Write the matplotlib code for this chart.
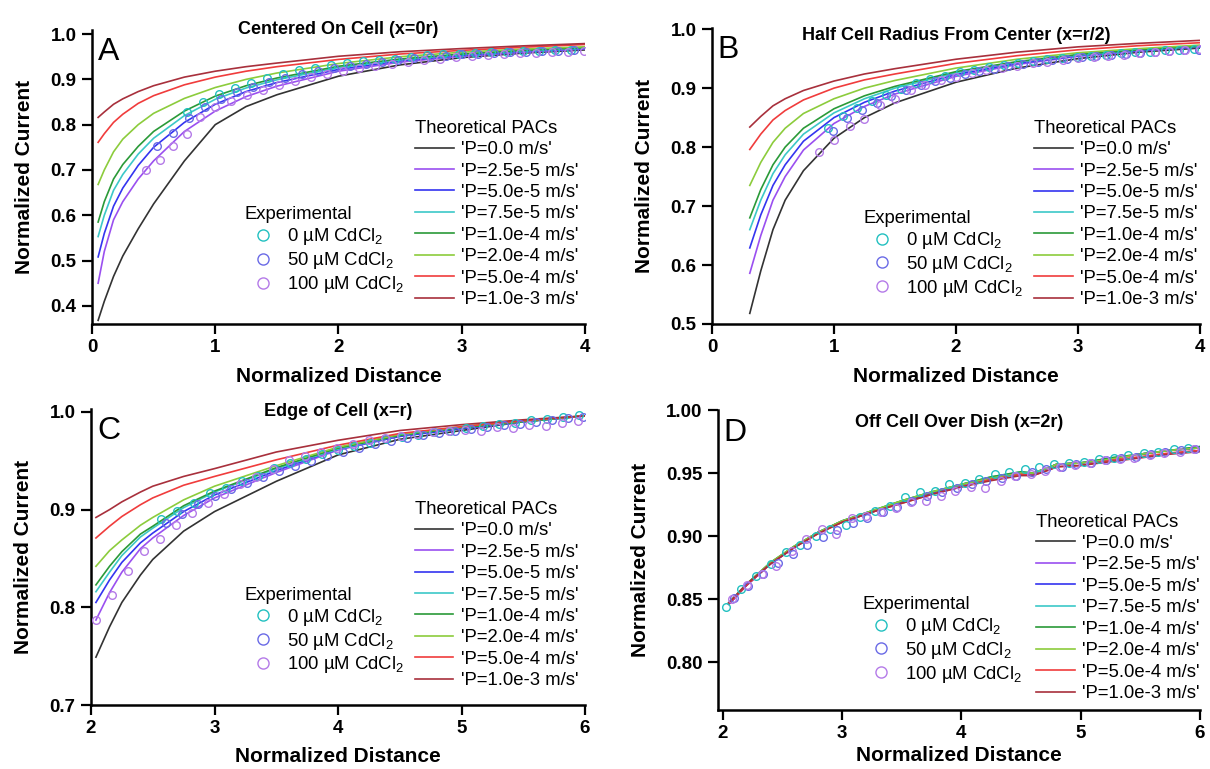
import numpy as np
import matplotlib.pyplot as plt
from matplotlib.lines import Line2D

plt.rcParams['font.family'] = ['Liberation Sans', 'DejaVu Sans']
plt.rcParams['mathtext.fontset'] = 'custom'
plt.rcParams['mathtext.rm'] = 'Liberation Sans'

# permeability series (theoretical PACs)
p_labels = ["'P=0.0 m/s'", "'P=2.5e-5 m/s'", "'P=5.0e-5 m/s'", "'P=7.5e-5 m/s'",
            "'P=1.0e-4 m/s'", "'P=2.0e-4 m/s'", "'P=5.0e-4 m/s'", "'P=1.0e-3 m/s'"]
p_colors = ['#333333', '#9a4ff0', '#3434f0', '#3cc8c8', '#2a9a38', '#8ccc3c', '#f03c3c', '#a8303c']

exp_labels = ['0 µM CdCl$_2$', '50 µM CdCl$_2$', '100 µM CdCl$_2$']
exp_colors = ['#22c0c0', '#6a6ae6', '#b47ae8']

# A: centered on cell
a_x = [0.05, 0.1, 0.175, 0.25, 0.375, 0.5, 0.75, 1.0, 1.25, 1.5, 2.0, 2.5, 3.0, 3.5, 4.0]
a_curves = [
    [0.368, 0.41, 0.465, 0.51, 0.57, 0.625, 0.72, 0.80, 0.84, 0.866, 0.907, 0.932, 0.948, 0.958, 0.965],
    [0.45, 0.52, 0.59, 0.63, 0.68, 0.72, 0.785, 0.83, 0.862, 0.885, 0.918, 0.938, 0.951, 0.96, 0.967],
    [0.508, 0.56, 0.62, 0.66, 0.71, 0.75, 0.805, 0.845, 0.873, 0.893, 0.922, 0.941, 0.953, 0.962, 0.968],
    [0.553, 0.60, 0.655, 0.69, 0.735, 0.77, 0.82, 0.856, 0.881, 0.899, 0.926, 0.943, 0.955, 0.963, 0.969],
    [0.585, 0.63, 0.68, 0.712, 0.752, 0.785, 0.83, 0.863, 0.886, 0.903, 0.929, 0.945, 0.956, 0.964, 0.97],
    [0.668, 0.70, 0.74, 0.768, 0.80, 0.825, 0.858, 0.882, 0.90, 0.914, 0.935, 0.95, 0.96, 0.967, 0.972],
    [0.761, 0.78, 0.805, 0.823, 0.847, 0.864, 0.888, 0.905, 0.918, 0.928, 0.944, 0.956, 0.964, 0.971, 0.977],
    [0.816, 0.828, 0.845, 0.857, 0.873, 0.886, 0.905, 0.918, 0.928, 0.936, 0.951, 0.961, 0.968, 0.974, 0.979],
]
a_cyan_x = [0.77, 0.90, 1.03, 1.16, 1.29, 1.42, 1.55, 1.68, 1.81, 1.94, 2.07, 2.20, 2.33,
            2.46, 2.59, 2.72, 2.85, 2.98, 3.11, 3.24, 3.37, 3.50, 3.63, 3.76, 3.89]
a_cyan_y = [0.828, 0.850, 0.868, 0.882, 0.893, 0.903, 0.912, 0.920, 0.926, 0.931, 0.936, 0.940, 0.943,
            0.946, 0.950, 0.953, 0.955, 0.957, 0.958, 0.960, 0.961, 0.962, 0.963, 0.964, 0.965]
a_blue_x = [0.53, 0.66, 0.79, 0.92, 1.05, 1.18, 1.31, 1.44, 1.57, 1.70, 1.83, 1.96, 2.09, 2.22,
            2.35, 2.48, 2.61, 2.74, 2.87, 3.00, 3.13, 3.26, 3.39, 3.52, 3.65, 3.78, 3.91]
a_blue_y = [0.752, 0.782, 0.815, 0.838, 0.857, 0.872, 0.884, 0.895, 0.904, 0.912, 0.919, 0.924, 0.930, 0.935,
            0.939, 0.943, 0.947, 0.950, 0.952, 0.955, 0.957, 0.958, 0.960, 0.961, 0.962, 0.963, 0.964]
a_violet_x = [0.44, 0.55, 0.66, 0.77, 0.88, 1.00, 1.13, 1.26, 1.39, 1.52, 1.65, 1.78, 1.91, 2.04, 2.17,
              2.30, 2.43, 2.56, 2.69, 2.82, 2.95, 3.08, 3.21, 3.34, 3.47, 3.60, 3.73, 3.86, 3.99]
a_violet_y = [0.700, 0.722, 0.752, 0.780, 0.817, 0.840, 0.852, 0.866, 0.877, 0.888, 0.897, 0.905, 0.912, 0.918, 0.924,
              0.929, 0.934, 0.938, 0.942, 0.946, 0.949, 0.952, 0.954, 0.956, 0.958, 0.959, 0.960, 0.961, 0.962]

# B: half cell radius from center
b_x = [0.31, 0.4, 0.5, 0.6, 0.75, 1.0, 1.25, 1.5, 2.0, 2.5, 3.0, 3.5, 4.0]
b_curves = [
    [0.518, 0.59, 0.66, 0.71, 0.76, 0.815, 0.85, 0.875, 0.91, 0.934, 0.95, 0.961, 0.968],
    [0.586, 0.65, 0.71, 0.75, 0.795, 0.84, 0.869, 0.89, 0.92, 0.94, 0.954, 0.963, 0.97],
    [0.629, 0.685, 0.735, 0.77, 0.81, 0.85, 0.876, 0.895, 0.923, 0.942, 0.955, 0.964, 0.97],
    [0.66, 0.71, 0.755, 0.787, 0.822, 0.858, 0.882, 0.90, 0.926, 0.944, 0.956, 0.965, 0.971],
    [0.68, 0.728, 0.77, 0.80, 0.832, 0.865, 0.887, 0.903, 0.928, 0.945, 0.957, 0.965, 0.971],
    [0.735, 0.774, 0.808, 0.832, 0.857, 0.882, 0.90, 0.913, 0.934, 0.949, 0.96, 0.967, 0.973],
    [0.796, 0.822, 0.846, 0.862, 0.88, 0.90, 0.914, 0.924, 0.942, 0.955, 0.965, 0.972, 0.977],
    [0.834, 0.852, 0.87, 0.882, 0.896, 0.912, 0.924, 0.933, 0.949, 0.961, 0.97, 0.976, 0.981],
]
b_cyan_x = [0.95, 1.07, 1.19, 1.31, 1.43, 1.55, 1.67, 1.79, 1.91, 2.03, 2.15, 2.27, 2.39,
            2.51, 2.63, 2.75, 2.87, 2.99, 3.11, 3.23, 3.35, 3.47, 3.59, 3.71, 3.83, 3.95]
b_cyan_y = [0.832, 0.853, 0.867, 0.878, 0.889, 0.899, 0.908, 0.915, 0.921, 0.927, 0.931, 0.935, 0.939,
            0.943, 0.946, 0.949, 0.951, 0.953, 0.955, 0.957, 0.959, 0.961, 0.962, 0.964, 0.965, 0.966]
b_blue_x = [0.99, 1.11, 1.23, 1.35, 1.47, 1.59, 1.71, 1.83, 1.95, 2.07, 2.19, 2.31, 2.43,
            2.55, 2.67, 2.79, 2.91, 3.03, 3.15, 3.27, 3.39, 3.51, 3.63, 3.75, 3.87, 3.99]
b_blue_y = [0.828, 0.850, 0.863, 0.875, 0.886, 0.896, 0.905, 0.912, 0.918, 0.924, 0.929, 0.933, 0.937,
            0.941, 0.944, 0.947, 0.950, 0.952, 0.954, 0.956, 0.958, 0.960, 0.961, 0.963, 0.964, 0.965]
b_violet_x = [0.88, 1.00, 1.13, 1.25, 1.38, 1.50, 1.63, 1.75, 1.88, 2.00, 2.13, 2.25, 2.38,
              2.50, 2.63, 2.75, 2.88, 3.00, 3.13, 3.25, 3.38, 3.50, 3.63, 3.75, 3.88, 4.00]
b_violet_y = [0.791, 0.812, 0.835, 0.847, 0.872, 0.882, 0.897, 0.905, 0.913, 0.919, 0.925, 0.930, 0.934,
              0.938, 0.942, 0.945, 0.948, 0.951, 0.953, 0.955, 0.957, 0.959, 0.961, 0.963, 0.964, 0.966]

# C: edge of cell
c_x = [2.04, 2.15, 2.25, 2.4, 2.5, 2.75, 3.0, 3.5, 4.0, 4.5, 5.0, 5.5, 6.0]
c_curves = [
    [0.749, 0.78, 0.805, 0.833, 0.849, 0.878, 0.898, 0.929, 0.956, 0.972, 0.981, 0.99, 0.996],
    [0.787, 0.815, 0.836, 0.86, 0.871, 0.894, 0.912, 0.938, 0.961, 0.975, 0.983, 0.99, 0.996],
    [0.805, 0.828, 0.846, 0.866, 0.876, 0.898, 0.915, 0.94, 0.962, 0.975, 0.983, 0.99, 0.996],
    [0.816, 0.836, 0.853, 0.872, 0.881, 0.902, 0.918, 0.942, 0.962, 0.976, 0.984, 0.99, 0.996],
    [0.823, 0.842, 0.857, 0.875, 0.883, 0.904, 0.919, 0.943, 0.963, 0.976, 0.984, 0.99, 0.996],
    [0.842, 0.858, 0.869, 0.884, 0.892, 0.91, 0.924, 0.945, 0.964, 0.977, 0.985, 0.991, 0.996],
    [0.871, 0.883, 0.893, 0.905, 0.912, 0.925, 0.934, 0.951, 0.966, 0.978, 0.985, 0.991, 0.996],
    [0.892, 0.90, 0.908, 0.918, 0.924, 0.934, 0.942, 0.959, 0.971, 0.981, 0.987, 0.992, 0.996],
]
c_cyan_x = [2.57, 2.70, 2.83, 2.96, 3.09, 3.22, 3.35, 3.48, 3.61, 3.74, 3.87, 4.00, 4.13, 4.26,
            4.39, 4.52, 4.65, 4.78, 4.91, 5.04, 5.17, 5.30, 5.43, 5.56, 5.69, 5.82, 5.95]
c_cyan_y = [0.890, 0.899, 0.907, 0.917, 0.922, 0.929, 0.934, 0.943, 0.948, 0.952, 0.957, 0.961, 0.965, 0.968,
            0.972, 0.974, 0.976, 0.979, 0.981, 0.984, 0.986, 0.988, 0.989, 0.992, 0.993, 0.995, 0.997]
c_blue_x = [2.61, 2.74, 2.87, 3.00, 3.13, 3.26, 3.39, 3.52, 3.65, 3.78, 3.91, 4.04, 4.17, 4.30,
            4.43, 4.56, 4.69, 4.82, 4.95, 5.08, 5.21, 5.34, 5.47, 5.60, 5.73, 5.86, 5.98]
c_blue_y = [0.886, 0.896, 0.906, 0.914, 0.921, 0.927, 0.933, 0.940, 0.945, 0.950, 0.955, 0.959, 0.963, 0.967,
            0.970, 0.973, 0.976, 0.978, 0.980, 0.983, 0.985, 0.987, 0.988, 0.990, 0.992, 0.994, 0.995]
c_violet_x = [2.04, 2.17, 2.30, 2.43, 2.56, 2.69, 2.82, 2.95, 3.08, 3.21, 3.34, 3.47, 3.60, 3.73, 3.86, 3.99,
              4.12, 4.25, 4.38, 4.51, 4.64, 4.77, 4.90, 5.03, 5.16, 5.29, 5.42, 5.55, 5.68, 5.81, 5.94]
c_violet_y = [0.787, 0.813, 0.837, 0.858, 0.870, 0.884, 0.897, 0.907, 0.916, 0.926, 0.933, 0.942, 0.951, 0.955, 0.959, 0.963,
              0.967, 0.971, 0.973, 0.975, 0.977, 0.979, 0.980, 0.982, 0.981, 0.985, 0.984, 0.987, 0.986, 0.989, 0.991]

# D: off cell over dish
d_x = [2.05, 2.2, 2.4, 2.6, 2.8, 3.0, 3.25, 3.5, 3.75, 4.0, 4.25, 4.5, 4.6, 4.75, 4.8, 5.0, 5.25, 5.5, 5.75, 6.0]
d_curves = [
    [0.846, 0.861, 0.878, 0.891, 0.903, 0.911, 0.919, 0.927, 0.934, 0.940, 0.946, 0.950, 0.9495, 0.955, 0.957, 0.958, 0.961, 0.965, 0.968, 0.970],
    [0.846, 0.861, 0.878, 0.891, 0.903, 0.911, 0.919, 0.927, 0.934, 0.940, 0.946, 0.950, 0.9495, 0.955, 0.957, 0.958, 0.961, 0.965, 0.968, 0.970],
    [0.846, 0.861, 0.878, 0.891, 0.903, 0.912, 0.920, 0.927, 0.934, 0.941, 0.946, 0.950, 0.9495, 0.955, 0.957, 0.958, 0.961, 0.965, 0.968, 0.970],
    [0.847, 0.862, 0.879, 0.892, 0.903, 0.912, 0.920, 0.928, 0.935, 0.941, 0.947, 0.951, 0.950, 0.955, 0.957, 0.958, 0.962, 0.965, 0.968, 0.971],
    [0.847, 0.862, 0.879, 0.892, 0.903, 0.912, 0.920, 0.928, 0.935, 0.941, 0.947, 0.951, 0.950, 0.955, 0.957, 0.958, 0.962, 0.965, 0.968, 0.971],
    [0.847, 0.862, 0.879, 0.892, 0.903, 0.912, 0.920, 0.928, 0.935, 0.941, 0.946, 0.950, 0.950, 0.955, 0.957, 0.958, 0.961, 0.965, 0.968, 0.970],
    [0.846, 0.861, 0.878, 0.891, 0.902, 0.911, 0.919, 0.926, 0.933, 0.939, 0.945, 0.949, 0.948, 0.953, 0.955, 0.956, 0.960, 0.963, 0.966, 0.968],
    [0.847, 0.862, 0.878, 0.891, 0.902, 0.911, 0.919, 0.926, 0.933, 0.939, 0.944, 0.948, 0.948, 0.953, 0.955, 0.956, 0.959, 0.962, 0.965, 0.967],
]
d_cyan_x = [2.03, 2.15, 2.28, 2.40, 2.53, 2.65, 2.78, 2.90, 3.03, 3.15, 3.28, 3.40, 3.53, 3.65, 3.78, 3.90,
            4.03, 4.15, 4.28, 4.40, 4.53, 4.65, 4.78, 4.90, 5.03, 5.15, 5.28, 5.40, 5.53, 5.65, 5.78, 5.90]
d_cyan_y = [0.844, 0.858, 0.868, 0.878, 0.887, 0.893, 0.900, 0.906, 0.909, 0.915, 0.920, 0.924, 0.931, 0.935, 0.936, 0.941,
            0.942, 0.945, 0.949, 0.951, 0.953, 0.955, 0.957, 0.958, 0.959, 0.961, 0.962, 0.964, 0.966, 0.967, 0.969, 0.970]
d_blue_x = [2.09, 2.21, 2.34, 2.46, 2.59, 2.71, 2.84, 2.96, 3.09, 3.21, 3.34, 3.46, 3.59, 3.71, 3.84, 3.96,
            4.09, 4.21, 4.34, 4.46, 4.59, 4.71, 4.84, 4.96, 5.09, 5.21, 5.34, 5.46, 5.59, 5.71, 5.84, 5.96]
d_blue_y = [0.851, 0.860, 0.870, 0.879, 0.886, 0.893, 0.899, 0.905, 0.910, 0.914, 0.919, 0.923, 0.928, 0.932, 0.935, 0.938,
            0.941, 0.944, 0.946, 0.948, 0.951, 0.953, 0.955, 0.957, 0.958, 0.960, 0.962, 0.963, 0.965, 0.967, 0.968, 0.969]
d_violet_x = [2.08, 2.20, 2.33, 2.45, 2.58, 2.70, 2.83, 2.95, 3.08, 3.20, 3.33, 3.45, 3.58, 3.70, 3.83, 3.95,
              4.08, 4.20, 4.33, 4.45, 4.58, 4.70, 4.83, 4.95, 5.08, 5.20, 5.33, 5.45, 5.58, 5.70, 5.83, 5.95]
d_violet_y = [0.850, 0.861, 0.870, 0.876, 0.888, 0.898, 0.906, 0.902, 0.914, 0.916, 0.919, 0.922, 0.927, 0.928, 0.932, 0.936,
              0.939, 0.938, 0.944, 0.948, 0.949, 0.952, 0.955, 0.956, 0.958, 0.960, 0.961, 0.962, 0.964, 0.966, 0.967, 0.969]

fig = plt.figure(figsize=(12.1, 7.69), dpi=100)

panels = [
    # letter, title, rect, x, curves, exp, xlim, xticks, ylim, yticks, yfmt, title offset,
    # legend anchors, xlabel pad
    ('A', 'Centered On Cell (x=0r)', [0.076, 0.5787, 0.4075, 0.3823], a_x, a_curves,
     [(a_cyan_x, a_cyan_y), (a_blue_x, a_blue_y), (a_violet_x, a_violet_y)],
     (0, 4), [0, 1, 2, 3, 4], (0.36, 1.009), [0.4, 0.5, 0.6, 0.7, 0.8, 0.9, 1.0], '%.1f', 0.0,
     (0.655, 0.695), (0.31, 0.40), 8),
    ('B', 'Half Cell Radius From Center (x=r/2)', [0.5884, 0.5787, 0.4033, 0.3849], b_x, b_curves,
     [(b_cyan_x, b_cyan_y), (b_blue_x, b_blue_y), (b_violet_x, b_violet_y)],
     (0, 4), [0, 1, 2, 3, 4], (0.5, 1.002), [0.5, 0.6, 0.7, 0.8, 0.9, 1.0], '%.1f', 0.027,
     (0.66, 0.69), (0.31, 0.385), 8),
    ('C', 'Edge of Cell (x=r)', [0.0752, 0.0832, 0.4083, 0.3849], c_x, c_curves,
     [(c_cyan_x, c_cyan_y), (c_blue_x, c_blue_y), (c_violet_x, c_violet_y)],
     (2, 6), [2, 3, 4, 5, 6], (0.7, 1.003), [0.7, 0.8, 0.9, 1.0], '%.1f', 0.01,
     (0.655, 0.69), (0.31, 0.40), 7),
    ('D', 'Off Cell Over Dish (x=2r)', [0.5934, 0.0767, 0.3983, 0.3901], d_x, d_curves,
     [(d_cyan_x, d_cyan_y), (d_blue_x, d_blue_y), (d_violet_x, d_violet_y)],
     (1.96, 6), [2, 3, 4, 5, 6], (0.762, 1.0), [0.80, 0.85, 0.90, 0.95, 1.00], '%.2f', 0.043,
     (0.66, 0.655), (0.30, 0.38), 3),
]

for (letter, title, rect, xs, curves, exps, xlim, xticks, ylim, yticks, yfmt, toff,
     th_anchor, ex_anchor, xpad) in panels:
    ax = fig.add_axes(rect)
    for ys, col in zip(curves, p_colors):
        ax.plot(xs, ys, color=col, lw=1.2, zorder=2)
    for (ex, ey), col in zip(exps, exp_colors):
        ax.plot(ex, ey, 'o', mfc='none', mec=col, ms=5.5, mew=1.0, zorder=3)

    ax.set_xlim(*xlim)
    ax.set_ylim(*ylim)
    ax.set_xticks(xticks)
    ax.set_yticks(yticks)
    ax.set_yticklabels([yfmt % t for t in yticks])
    ax.spines['top'].set_visible(False)
    ax.spines['right'].set_visible(False)
    for s in ['left', 'bottom']:
        ax.spines[s].set_linewidth(1.8)
    ax.tick_params(direction='out', length=7, width=1.6, labelsize=13.5, pad=4)
    for lab in ax.get_xticklabels() + ax.get_yticklabels():
        lab.set_fontweight('bold')
    ax.set_xlabel('Normalized Distance', fontsize=15, fontweight='bold', labelpad=xpad)
    ax.set_ylabel('Normalized Current', fontsize=15, fontweight='bold', labelpad=12)

    ax.text(0.5, 1.0 - toff, title, transform=ax.transAxes, ha='center', va='center',
            fontsize=13, fontweight='bold')
    ax.text(0.012, 0.975, letter, transform=ax.transAxes, ha='left', va='top', fontsize=23)

    th_handles = [Line2D([], [], color=c, lw=1.2) for c in p_colors]
    leg1 = ax.legend(th_handles, p_labels, title='Theoretical PACs', loc='upper left',
                     bbox_to_anchor=th_anchor, frameon=False, fontsize=13.3, title_fontsize=13.3,
                     handlelength=2.1, handletextpad=0.4, labelspacing=0.24, borderpad=0,
                     borderaxespad=0, alignment='left')
    ax.add_artist(leg1)
    ex_handles = [Line2D([], [], ls='none', marker='o', mfc='none', mec=c, ms=8, mew=1.0)
                  for c in exp_colors]
    ax.legend(ex_handles, exp_labels, title='Experimental', loc='upper left',
              bbox_to_anchor=ex_anchor, frameon=False, fontsize=13.3, title_fontsize=13.3,
              handlelength=2.0, handletextpad=0.3, labelspacing=0.16, borderpad=0,
              borderaxespad=0, alignment='left')

fig.savefig('out.png', dpi=100)
